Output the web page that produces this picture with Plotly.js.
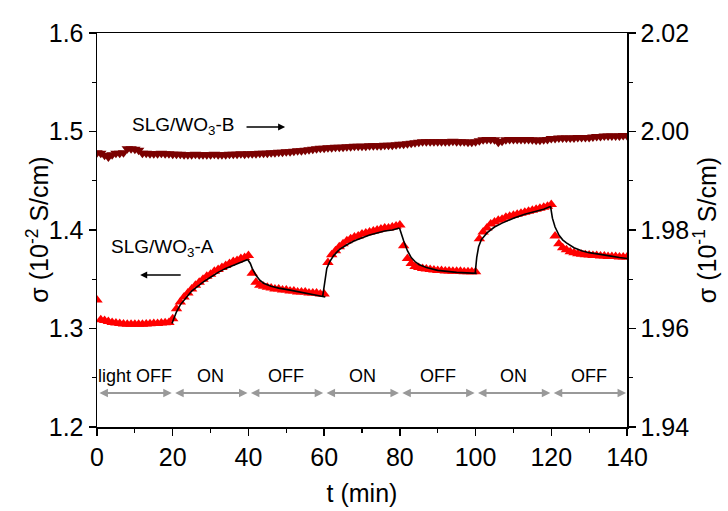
<!DOCTYPE html>
<html>
<head>
<meta charset="utf-8">
<script src="https://cdn.plot.ly/plotly-3.0.1.min.js"></script>
<style>html,body{margin:0;padding:0;background:#fff}#chart{width:728px;height:511px}</style>
</head>
<body>
<div id="chart"></div>
<script>
// time axis: first sample and sampling step (min)
const timeStart = 0;
const timeStep = 1;

// SLG/WO3-A conductivity (1e-2 S/cm), one value per minute, t = 0..140
const sigmaA = [
  1.329, 1.309, 1.308, 1.307, 1.306, 1.3055, 1.305, 1.3045, 1.3043, 1.3042,
  1.3042, 1.3043, 1.3043, 1.3045, 1.3047, 1.305, 1.3052, 1.3055, 1.3058, 1.306,
  1.310, 1.320, 1.327, 1.332, 1.336, 1.340, 1.344, 1.347, 1.350, 1.353,
  1.355, 1.358, 1.360, 1.362, 1.364, 1.366, 1.368, 1.369, 1.371, 1.372, 1.374,
  1.356, 1.347, 1.344, 1.343, 1.342, 1.341, 1.340, 1.340, 1.339, 1.339,
  1.338, 1.338, 1.337, 1.337, 1.337, 1.336, 1.336, 1.336, 1.335, 1.335,
  1.367, 1.375, 1.379, 1.383, 1.386, 1.389, 1.391, 1.393, 1.394, 1.396,
  1.397, 1.398, 1.399, 1.400, 1.401, 1.402, 1.402, 1.403, 1.404, 1.405,
  1.384, 1.371, 1.366, 1.363, 1.362, 1.361, 1.3605, 1.360, 1.3595, 1.359,
  1.359, 1.3585, 1.3585, 1.358, 1.358, 1.358, 1.3575, 1.3575, 1.3575, 1.3575,
  1.391, 1.398, 1.402, 1.406, 1.408, 1.410, 1.411, 1.413, 1.414, 1.415,
  1.416, 1.417, 1.418, 1.419, 1.420, 1.421, 1.422, 1.423, 1.424, 1.426,
  1.394, 1.386, 1.382, 1.380, 1.378, 1.377, 1.376, 1.3755, 1.375, 1.3745,
  1.374, 1.374, 1.3735, 1.3735, 1.373, 1.373, 1.373, 1.3725, 1.3725, 1.3725
];

// SLG/WO3-B conductivity (1e-1 S/cm), one value per minute, t = 0..140
const sigmaB = [
  1.9957, 1.9956, 1.9952, 1.9948, 1.9953, 1.9956, 1.9956, 1.9957, 1.9965, 1.9965,
  1.9964, 1.9962, 1.9956, 1.9956, 1.9955, 1.9955, 1.9955, 1.9956, 1.9955, 1.9955,
  1.9954, 1.9954, 1.9954, 1.9953, 1.9953, 1.9953, 1.9954, 1.9953, 1.9953, 1.9953,
  1.9953, 1.9954, 1.9953, 1.9953, 1.9953, 1.9954, 1.9954, 1.9954, 1.9955, 1.9954,
  1.9955, 1.9955, 1.9955, 1.9956, 1.9956, 1.9956, 1.9957, 1.9957, 1.9958, 1.9958,
  1.9959, 1.9959, 1.9960, 1.9961, 1.9961, 1.9962, 1.9963, 1.9964, 1.9965, 1.9966,
  1.9966, 1.9967, 1.9967, 1.9968, 1.9968, 1.9968, 1.9969, 1.9969, 1.9970, 1.9970,
  1.9970, 1.9970, 1.9971, 1.9971, 1.9971, 1.9971, 1.9972, 1.9972, 1.9972, 1.9973,
  1.9974, 1.9974, 1.9975, 1.9976, 1.9977, 1.9978, 1.9979, 1.9979, 1.9979, 1.9979,
  1.9979, 1.9979, 1.9979, 1.9979, 1.9980, 1.9979, 1.9979, 1.9979, 1.9978, 1.9978,
  1.9979, 1.9981, 1.9983, 1.9984, 1.9984, 1.9983, 1.9978, 1.9980, 1.9983, 1.9984,
  1.9984, 1.9984, 1.9984, 1.9984, 1.9984, 1.9983, 1.9982, 1.9982, 1.9983, 1.9984,
  1.9986, 1.9986, 1.9987, 1.9987, 1.9987, 1.9987, 1.9987, 1.9988, 1.9988, 1.9988,
  1.9988, 1.9989, 1.9990, 1.9990, 1.9991, 1.9991, 1.9991, 1.9991, 1.9991, 1.9992,
  1.9992
];

// exponential fit of SLG/WO3-A (segments separated by null)
const fitTime = [
  19.8, 20.5, 21, 22, 23, 24, 25, 26, 28, 30, 32, 34, 36, 38, 39.8, null,
  39.8, 40.5, 41, 42, 43, 44, 46, 48, 51, 55, 60.3, null,
  59.6, 60.2, 60.7, 61.5, 62.5, 64, 66, 68, 70, 72, 74, 76, 78, 79.9, null,
  79.9, 80.5, 81, 82, 83, 84, 85, 87, 90, 95, 100.3, null,
  99.9, 100.3, 100.8, 101.5, 103, 105, 107, 110, 113, 116, 118, 119.8, null,
  119.8, 120.3, 121, 122, 123, 124, 126, 128, 130, 132, 135, 138, 140
];
const fitSigma = [
  1.305, 1.312, 1.317, 1.324, 1.329, 1.334, 1.338, 1.341, 1.347, 1.352, 1.357, 1.361, 1.364, 1.367, 1.370, null,
  1.370, 1.366, 1.361, 1.354, 1.349, 1.346, 1.343, 1.341, 1.339, 1.336, 1.332, null,
  1.332, 1.350, 1.361, 1.368, 1.374, 1.380, 1.385, 1.389, 1.392, 1.395, 1.397, 1.399, 1.400, 1.402, null,
  1.402, 1.394, 1.389, 1.379, 1.372, 1.368, 1.365, 1.362, 1.359, 1.357, 1.356, null,
  1.356, 1.372, 1.383, 1.390, 1.397, 1.403, 1.407, 1.412, 1.416, 1.419, 1.421, 1.424, null,
  1.424, 1.412, 1.403, 1.395, 1.390, 1.387, 1.382, 1.379, 1.377, 1.3755, 1.374, 1.372, 1.371
];

// light switching periods
const periodBounds = [0, 20, 40, 60, 80, 100, 120, 140];
const periodLabels = ["light OFF", "ON", "OFF", "ON", "OFF", "ON", "OFF"];

// axis ticks
const xTicks = [0, 20, 40, 60, 80, 100, 120, 140];
const leftTicks = [1.2, 1.3, 1.4, 1.5, 1.6];
const rightTicks = [1.94, 1.96, 1.98, 2.00, 2.02];

const FONT = "Arial, 'Liberation Sans', sans-serif";
const periodY = 1.2345;
const periodLabelY = 1.2518;

const traces = [
  {
    type: "scatter", mode: "markers", name: "SLG/WO3-B",
    x0: timeStart, dx: timeStep, y: sigmaB, yaxis: "y2",
    marker: {symbol: "triangle-down", size: 10, color: "#7b0000", line: {width: 0}},
    hoverinfo: "skip"
  },
  {
    type: "scatter", mode: "markers", name: "SLG/WO3-A",
    x0: timeStart, dx: timeStep, y: sigmaA,
    marker: {symbol: "triangle-up", size: 10, color: "#ff0000", line: {width: 0}},
    hoverinfo: "skip"
  },
  {
    type: "scatter", mode: "lines", name: "fit",
    x: fitTime, y: fitSigma, connectgaps: false,
    line: {color: "#000000", width: 1.6},
    hoverinfo: "skip"
  }
];

const annotations = [];
for (let i = 0; i < periodLabels.length; i++) {
  const a = periodBounds[i], b = periodBounds[i + 1];
  annotations.push({
    x: b - 0.25, y: periodY, ax: a + 0.25, ay: periodY,
    xref: "x", yref: "y", axref: "x", ayref: "y",
    text: "", showarrow: true, arrowside: "end+start",
    arrowhead: 2, startarrowhead: 2, arrowsize: 0.85, startarrowsize: 0.85,
    arrowwidth: 2, arrowcolor: "#999999", standoff: 0, startstandoff: 0
  });
  annotations.push({
    x: (a + b) / 2, y: periodLabelY, xref: "x", yref: "y",
    text: periodLabels[i], showarrow: false,
    font: {family: FONT, size: 18, color: "#000"}
  });
}
annotations.push({
  x: 22.7, y: 1.5056, xref: "x", yref: "y",
  text: "SLG/WO<sub>3</sub>-B", showarrow: false,
  font: {family: FONT, size: 19, color: "#000"}
});
annotations.push({
  x: 49.7, y: 1.5046, ax: 39.1, ay: 1.5046,
  xref: "x", yref: "y", axref: "x", ayref: "y",
  text: "", showarrow: true, arrowhead: 2, arrowsize: 1, arrowwidth: 1.4,
  arrowcolor: "#000", standoff: 0, startstandoff: 0
});
annotations.push({
  x: 17.4, y: 1.3817, xref: "x", yref: "y",
  text: "SLG/WO<sub>3</sub>-A", showarrow: false,
  font: {family: FONT, size: 19, color: "#000"}
});
annotations.push({
  x: 11.4, y: 1.3543, ax: 22.5, ay: 1.3543,
  xref: "x", yref: "y", axref: "x", ayref: "y",
  text: "", showarrow: true, arrowhead: 2, arrowsize: 1, arrowwidth: 1.4,
  arrowcolor: "#000", standoff: 0, startstandoff: 0
});
// left axis title (placed as rotated text to match the reference position)
annotations.push({
  x: -0.112, y: 0.5, xref: "paper", yref: "paper",
  xanchor: "center", yanchor: "middle", textangle: -90,
  text: "σ (10<sup>-2</sup> S/cm)", showarrow: false,
  font: {family: FONT, size: 25, color: "#000"}
});

const layout = {
  width: 728, height: 511,
  margin: {l: 97, r: 101, t: 33, b: 84, pad: 0},
  paper_bgcolor: "#fff", plot_bgcolor: "#fff",
  showlegend: false,
  font: {family: FONT, color: "#000", size: 25},
  xaxis: {
    range: [0, 140], tickvals: xTicks, ticktext: xTicks.map(String),
    showline: true, linecolor: "#000", linewidth: 1.5, mirror: true,
    ticks: "outside", ticklen: 7, tickwidth: 1.5, tickcolor: "#000",
    minor: {dtick: 10, ticks: "outside", ticklen: 4, tickwidth: 1.2, tickcolor: "#000"},
    showgrid: false, zeroline: false,
    tickfont: {family: FONT, size: 25},
    title: {text: "t (min)", font: {family: FONT, size: 25}, standoff: 15}
  },
  yaxis: {
    range: [1.2, 1.6], tickvals: leftTicks, ticktext: leftTicks.map(v => v.toFixed(1)),
    showline: true, linecolor: "#000", linewidth: 1.5,
    ticks: "outside", ticklen: 7, tickwidth: 1.5, tickcolor: "#000",
    minor: {dtick: 0.05, ticks: "outside", ticklen: 4, tickwidth: 1.2, tickcolor: "#000"},
    showgrid: false, zeroline: false,
    tickfont: {family: FONT, size: 25}
  },
  yaxis2: {
    overlaying: "y", side: "right",
    range: [1.94, 2.02], tickvals: rightTicks, ticktext: rightTicks.map(v => v.toFixed(2)),
    showline: true, linecolor: "#000", linewidth: 1.5,
    ticks: "outside", ticklen: 7, tickwidth: 1.5, tickcolor: "#000",
    minor: {dtick: 0.01, ticks: "outside", ticklen: 4, tickwidth: 1.2, tickcolor: "#000"},
    showgrid: false, zeroline: false,
    tickfont: {family: FONT, size: 25},
    title: {text: "σ (10<sup>-1</sup> S/cm)", font: {family: FONT, size: 25}, standoff: 6}
  },
  annotations: annotations
};

Plotly.newPlot("chart", traces, layout, {displayModeBar: false, staticPlot: true});
</script>
</body>
</html>
